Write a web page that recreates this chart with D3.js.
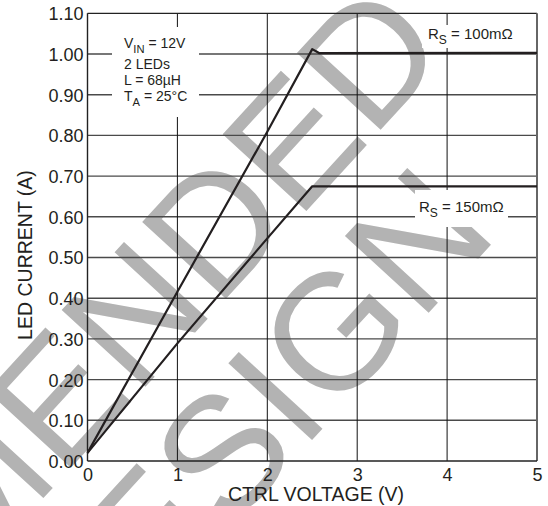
<!DOCTYPE html>
<html><head><meta charset="utf-8">
<script src="https://cdn.jsdelivr.net/npm/d3@7"></script>
<style>
html,body{margin:0;padding:0;background:#fff;overflow:hidden;}
svg{display:block;font-family:"Liberation Sans",Arial,sans-serif;}
</style></head>
<body>
<svg id="c" width="548" height="506"></svg>
<script>
// ---- data ----
const xTicks = [0, 1, 2, 3, 4, 5];
const yTicks = [0, 0.1, 0.2, 0.3, 0.4, 0.5, 0.6, 0.7, 0.8, 0.9, 1.0, 1.1];
const rs100V = [0, 1, 2, 2.5, 2.58, 5];
const rs100I = [0.02, 0.416, 0.809, 1.012, 1.002, 1.003];
const rs150V = [0, 1, 2, 2.5, 5];
const rs150I = [0.02, 0.289, 0.547, 0.675, 0.675];
const xTitle = "CTRL VOLTAGE (V)";
const yTitle = "LED CURRENT (A)";
const watermark = ["NOT RECOMMENDED", "FOR NEW DESIGN"];

const svg = d3.select("#c");
const x = d3.scaleLinear().domain([0, 5]).range([87.5, 537]);
const y = d3.scaleLinear().domain([0, 1.1]).range([461, 13.3]);
const ink = "#231f20";

// watermark (behind), clipped to the page
svg.append("clipPath").attr("id", "page").append("rect")
  .attr("x", 0).attr("y", 0).attr("width", 548).attr("height", 506);
const wm = svg.append("g").attr("clip-path", "url(#page)").attr("fill", "#b3b3b3")
  .style("font-family", "'Liberation Sans',Arial,sans-serif").style("font-size", "165px");
wm.append("text").attr("transform", "translate(452,52) rotate(-47.5)")
  .attr("text-anchor", "end").text(watermark[0]);
wm.append("text").attr("transform", "translate(500,235) rotate(-47.5)")
  .attr("text-anchor", "end").text(watermark[1]);

// gridlines
const g = svg.append("g");
g.selectAll(".hg").data(yTicks.slice(1, -1)).join("line")
  .attr("x1", x(0)).attr("x2", x(5))
  .attr("y1", d => y(d)).attr("y2", d => y(d))
  .attr("stroke", "#4a4a4a").attr("stroke-width", 1.4);
g.selectAll(".vg").data(xTicks.slice(1, -1)).join("line")
  .attr("y1", y(0)).attr("y2", y(1.1))
  .attr("x1", d => x(d)).attr("x2", d => x(d))
  .attr("stroke", "#111").attr("stroke-width", 1);
// frame
g.append("line").attr("x1", x(0)).attr("x2", x(5)).attr("y1", y(1.1)).attr("y2", y(1.1)).attr("stroke", "#222").attr("stroke-width", 1.2);
g.append("line").attr("x1", x(5)).attr("x2", x(5)).attr("y1", y(0)).attr("y2", y(1.1)).attr("stroke", "#666").attr("stroke-width", 2);
g.append("line").attr("x1", x(0)).attr("x2", x(0)).attr("y1", y(0)).attr("y2", y(1.1)).attr("stroke", "#222").attr("stroke-width", 1.4);
g.append("line").attr("x1", x(0)).attr("x2", x(5)).attr("y1", y(0)).attr("y2", y(0)).attr("stroke", "#222").attr("stroke-width", 1.4);

// axes (labels only)
const xa = svg.append("g").attr("transform", `translate(0,${y(0)})`)
  .call(d3.axisBottom(x).tickValues(xTicks).tickSize(0).tickPadding(7).tickFormat(d3.format("d")));
const ya = svg.append("g").attr("transform", `translate(${x(0)},0)`)
  .call(d3.axisLeft(y).tickValues(yTicks).tickSize(0).tickPadding(4).tickFormat(d3.format(".2f")));
[xa, ya].forEach(a => {
  a.select(".domain").remove();
  a.selectAll("text").attr("fill", ink).style("font-size", "18px")
    .style("font-family", "'Liberation Sans',Arial,sans-serif");
});
ya.selectAll("text").attr("dy", "0.36em");
xa.selectAll("text").attr("dy", "0.71em");

// titles
svg.append("text").attr("x", 316).attr("y", 501).attr("text-anchor", "middle")
  .attr("fill", ink).style("font-size", "19.5px").text(xTitle);
svg.append("text").attr("transform", "translate(32,255) rotate(-90)").attr("text-anchor", "middle")
  .attr("fill", ink).style("font-size", "19.5px").text(yTitle);

// annotation boxes
svg.append("rect").attr("x", 112).attr("y", 27).attr("width", 87).attr("height", 90).attr("fill", "#fff");
svg.append("rect").attr("x", 422).attr("y", 25).attr("width", 96).attr("height", 23).attr("fill", "#fff");
svg.append("rect").attr("x", 415).attr("y", 190).attr("width", 93).attr("height", 37).attr("fill", "#fff");

function subText(xp, yp, main, sub, rest, fs) {
  const t = svg.append("text").attr("x", xp).attr("y", yp).attr("fill", ink).style("font-size", fs + "px");
  t.append("tspan").text(main);
  t.append("tspan").attr("dy", fs * 0.33).style("font-size", (fs * 0.8) + "px").text(sub);
  t.append("tspan").attr("dy", -fs * 0.33).text(rest);
}
subText(124, 48, "V", "IN", " = 12V", 14);
svg.append("text").attr("x", 124).attr("y", 69).attr("fill", ink).style("font-size", "14px").text("2 LEDs");
svg.append("text").attr("x", 124).attr("y", 85).attr("fill", ink).style("font-size", "14px").text("L = 68µH");
subText(124, 101, "T", "A", " = 25°C", 14);
subText(428, 39, "R", "S", " = 100mΩ", 15);
subText(419, 212, "R", "S", " = 150mΩ", 15);

// curves
const line = d3.line().x(d => x(d[0])).y(d => y(d[1]));
svg.append("path").datum(rs100V.map((v, i) => [v, rs100I[i]])).attr("d", line)
  .attr("fill", "none").attr("stroke", ink).attr("stroke-width", 2.2).attr("stroke-linejoin", "round");
svg.append("path").datum(rs150V.map((v, i) => [v, rs150I[i]])).attr("d", line)
  .attr("fill", "none").attr("stroke", ink).attr("stroke-width", 2.2).attr("stroke-linejoin", "round");
</script>
</body></html>
